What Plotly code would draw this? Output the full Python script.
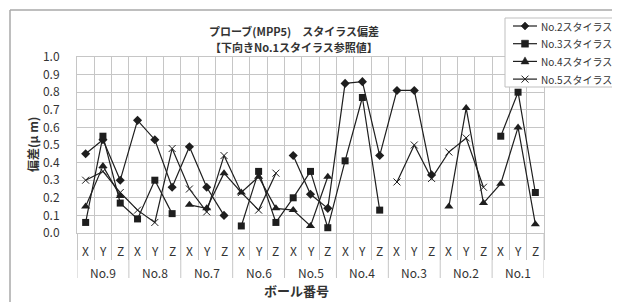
import plotly.graph_objects as go

# ---------------- data ----------------
balls = ["No.9", "No.8", "No.7", "No.6", "No.5", "No.4", "No.3", "No.2", "No.1"]
axes_xyz = ["X", "Y", "Z"]

stylus2 = [0.45, 0.53, 0.30, 0.64, 0.53, 0.26, 0.49, 0.26, 0.10,
           None, None, None, 0.44, 0.22, 0.14, 0.85, 0.86, 0.44,
           0.81, 0.81, 0.33, None, None, None, None, None, None]
stylus3 = [0.06, 0.55, 0.17, 0.08, 0.30, 0.11, None, None, None,
           0.04, 0.35, 0.06, 0.20, 0.35, 0.03, 0.41, 0.77, 0.13,
           None, None, None, None, None, None, 0.55, 0.80, 0.23]
stylus4 = [0.15, 0.38, 0.21, None, None, None, 0.16, 0.14, 0.34,
           0.23, 0.32, 0.14, 0.13, 0.04, 0.32, None, None, None,
           None, None, None, 0.15, 0.71, 0.17, 0.28, 0.60, 0.05]
stylus5 = [0.30, 0.35, 0.23, 0.13, 0.06, 0.48, 0.25, 0.12, 0.44,
           0.23, 0.13, 0.34, None, None, None, None, None, None,
           0.29, 0.50, 0.31, 0.46, 0.54, 0.26, None, None, None]

series_names = ["No.2スタイラス", "No.3スタイラス", "No.4スタイラス", "No.5スタイラス"]
series_values = [stylus2, stylus3, stylus4, stylus5]

title_line1 = "プローブ(MPP5)　スタイラス偏差"
title_line2 = "【下向きNo.1スタイラス参照値】"
y_title = "偏差(μ m)"
x_title = "ボール番号"

# ---------------- layout geometry ----------------
# the page body has an 8px default margin, so the figure is drawn 8px in
OFF = 8
W, H = 620 - OFF, 302 - OFF
PLOT_L, PLOT_R, PLOT_T, PLOT_B = 77, 544, 57, 233   # wanted window pixels
L = PLOT_L - OFF
T = PLOT_T - OFF
R = W - (PLOT_R - OFF)
B = H - (PLOT_B - OFF)
PW, PH = W - L - R, H - T - B

def px2x(px):
    return (px - OFF - L) / PW

def py2y(py):
    return (H - B - (py - OFF)) / PH

FONT = "Noto Sans CJK JP"
INK = "#1e1e1e"
GRID = "#c6c6c6"
TXT = "#333333"
FRAME = "#a8a8a8"

n_sub = len(axes_xyz)
n_cat = len(balls) * n_sub
x_idx = list(range(n_cat))
x_inner = [a for _ in balls for a in axes_xyz]

styles = [
    dict(symbol="diamond", size=7),
    dict(symbol="square", size=7),
    dict(symbol="triangle-up", size=8),
    dict(symbol="x-thin-open", size=7),
]
# legend glyph outlines (pixel offsets, y up)
glyph_paths = [
    "M0,4 L4,0 L0,-4 L-4,0 Z",
    "M-3.5,-3.5 L3.5,-3.5 L3.5,3.5 L-3.5,3.5 Z",
    "M-4,-2.5 L4,-2.5 L0,4.5 Z",
    "M-3.5,-3.5 L3.5,3.5 M-3.5,3.5 L3.5,-3.5",
]

fig = go.Figure()
for name, vals, st in zip(series_names, series_values, styles):
    marker = dict(symbol=st["symbol"], size=st["size"], color=INK,
                  line=dict(color=INK, width=1 if "thin" in st["symbol"] else 0))
    fig.add_trace(go.Scatter(
        x=x_idx, y=vals, name=name, mode="lines+markers",
        line=dict(color=INK, width=1.2), marker=marker, connectgaps=False,
        showlegend=False,
    ))

def ann(text, px, py, size, angle=0):
    return dict(text="<b>" + text + "</b>", x=px2x(px), y=py2y(py),
                xref="paper", yref="paper", showarrow=False,
                xanchor="center", yanchor="middle", textangle=angle,
                font=dict(family=FONT, size=size, color=TXT))

annotations = [
    ann(title_line1, 294, 31, 11),
    ann(title_line2, 294, 47, 11),
    ann(y_title, 32, 145, 12, -90),
    ann(x_title, 296, 290, 13),
]
# two-level category labels
for i, lab in enumerate(x_inner):
    annotations.append(dict(text=lab, x=i, y=py2y(250), xref="x", yref="paper",
                            showarrow=False, xanchor="center", yanchor="middle",
                            font=dict(family=FONT, size=12, color=TXT)))
for g, lab in enumerate(balls):
    annotations.append(dict(text=lab, x=g * n_sub + (n_sub - 1) / 2, y=py2y(272),
                            xref="x", yref="paper", showarrow=False,
                            xanchor="center", yanchor="middle",
                            font=dict(family=FONT, size=12, color=TXT)))

shapes = []
# chart-area frame
for x0, y0, x1, y1 in [(10, 10, 617, 10), (10, 10, 10, 302), (617, 10, 617, 302)]:
    shapes.append(dict(type="line", xref="paper", yref="paper",
                       x0=px2x(x0), x1=px2x(x1), y0=py2y(y0), y1=py2y(y1),
                       line=dict(color=FRAME, width=1.5), layer="above"))
# group dividers in the label area
for g in range(len(balls) + 1):
    xb = g * n_sub - 0.5
    shapes.append(dict(type="line", xref="x", yref="paper", x0=xb, x1=xb,
                       y0=py2y(278), y1=0, line=dict(color=GRID, width=1)))

# legend box (drawn over the plot, as in the original)
LEG_L, LEG_R, LEG_T, LEG_B = 505, 616, 18, 87
LEG_ROW0, LEG_STEP = 26, 17.7
shapes.append(dict(type="rect", xref="paper", yref="paper",
                   x0=px2x(LEG_L), x1=px2x(LEG_R), y0=py2y(LEG_B), y1=py2y(LEG_T),
                   fillcolor="white", line=dict(color="#bfbfbf", width=1),
                   layer="above"))
for k, (name, path) in enumerate(zip(series_names, glyph_paths)):
    ry = LEG_ROW0 + LEG_STEP * k
    shapes.append(dict(type="line", xref="paper", yref="paper",
                       x0=px2x(513), x1=px2x(537), y0=py2y(ry), y1=py2y(ry),
                       line=dict(color=INK, width=1.2), layer="above"))
    filled = "Z" in path
    shapes.append(dict(type="path", xref="paper", yref="paper",
                       xsizemode="pixel", ysizemode="pixel",
                       xanchor=px2x(525), yanchor=py2y(ry), path=path,
                       fillcolor=INK if filled else "rgba(0,0,0,0)",
                       line=dict(color=INK, width=1 if not filled else 0.5),
                       layer="above"))
    annotations.append(dict(text=name, x=px2x(539), y=py2y(ry),
                            xref="paper", yref="paper", showarrow=False,
                            xanchor="left", yanchor="middle",
                            font=dict(family=FONT, size=10, color=TXT)))

fig.update_layout(
    width=W, height=H,
    margin=dict(l=L, r=R, t=T, b=B, pad=0, autoexpand=False),
    paper_bgcolor="white", plot_bgcolor="white",
    font=dict(family=FONT, size=11, color=TXT),
    showlegend=False,
    xaxis=dict(
        range=[-0.5, n_cat - 0.5], tickmode="array",
        tickvals=[k - 0.5 for k in range(n_cat + 1)], showticklabels=False,
        showgrid=True, gridcolor=GRID, gridwidth=1,
        ticks="outside", ticklen=26, tickcolor=GRID, automargin=False,
        showline=True, linecolor=GRID, mirror=True, zeroline=False,
    ),
    yaxis=dict(
        range=[0, 1.0], dtick=0.1, tickformat=".1f", automargin=False,
        showgrid=True, gridcolor=GRID, gridwidth=1,
        showline=True, linecolor=GRID, mirror=True, zeroline=False,
        ticks="", ticklabelstandoff=14,
        tickfont=dict(family=FONT, size=12, color=TXT),
    ),
    shapes=shapes,
    annotations=annotations,
)

fig.write_html("out.html")
